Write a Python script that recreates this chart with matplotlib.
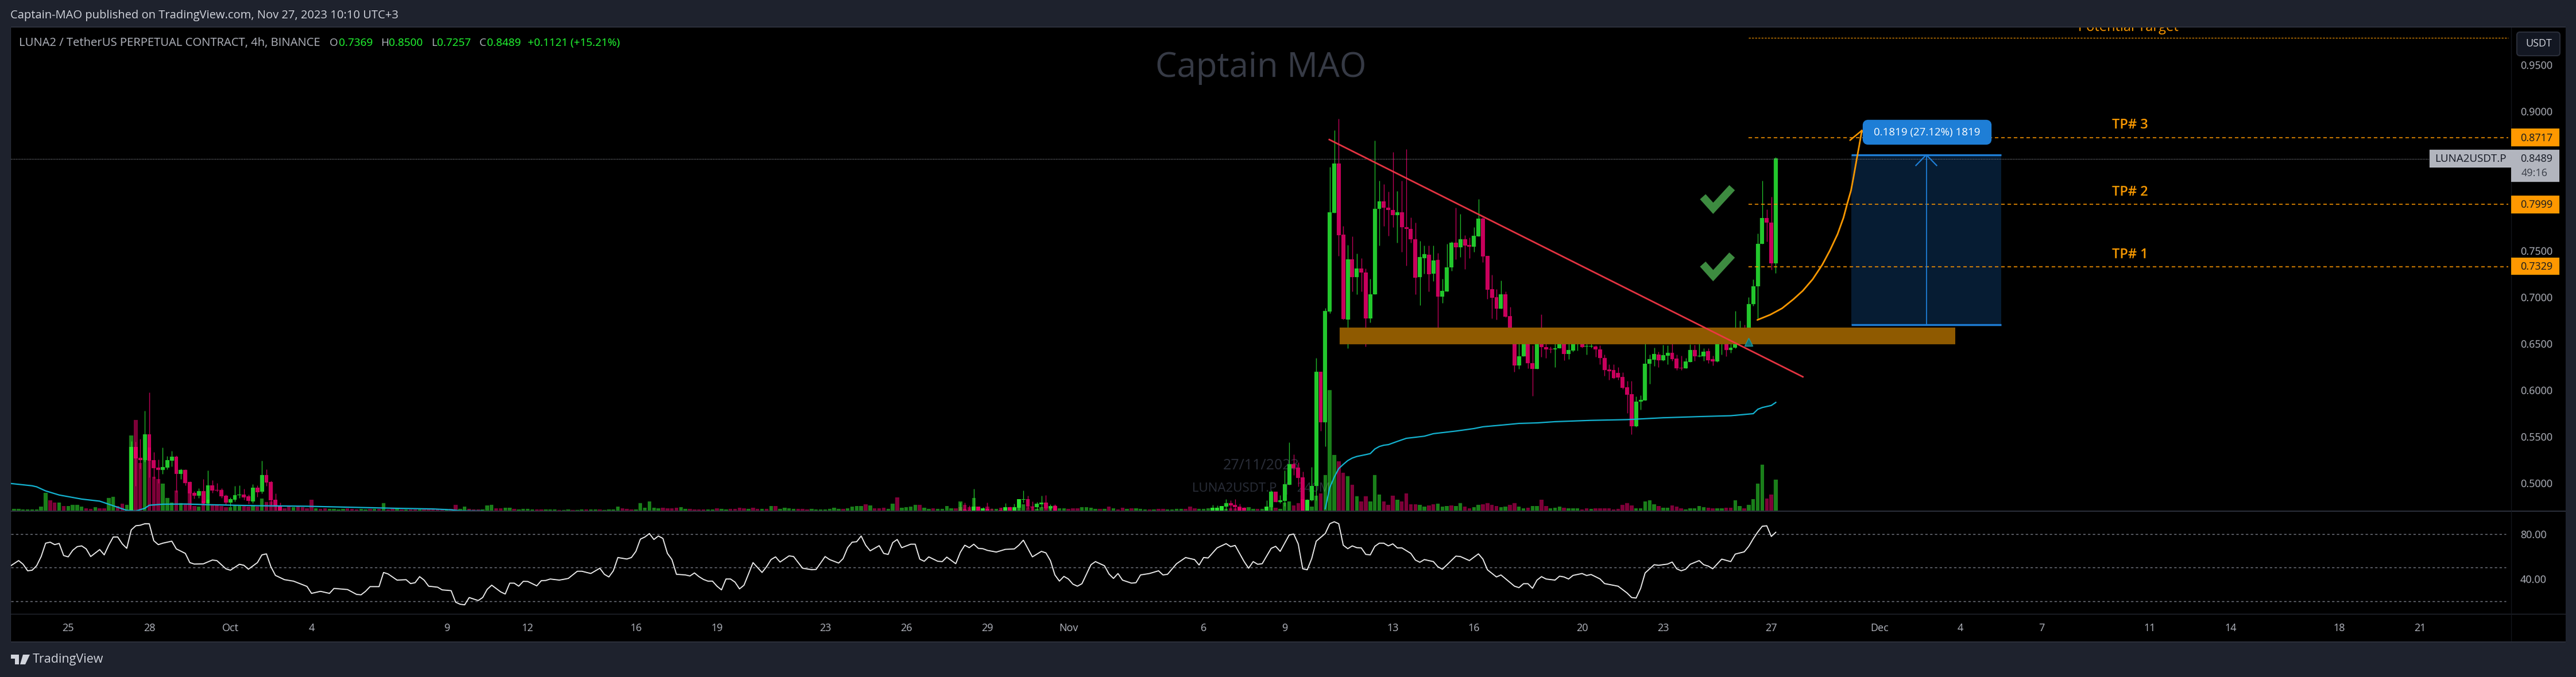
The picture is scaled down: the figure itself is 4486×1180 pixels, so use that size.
import numpy as np
import matplotlib
matplotlib.use("Agg")
import matplotlib.pyplot as plt
from matplotlib.patches import Rectangle, FancyBboxPatch, Polygon

# ---------- candles (bar index: 0 = 28 Sep, 6 bars a day) ----------
bars_a = list(range(-4, 30))
open_a = [.4703,.5391,.5274,.5250,.5527,.5250,.5169,.5145,.5169,.5243,.5286,.5102,.5145,.5015,.4898,.4867,.4917,.4789,.4978,.4929,.4929,.4867,.4793,.4824,.4873,.4880,.4861,.4806,.4954,.4910,.5089,.5015,.4824,.4756]
close_a = [.5391,.5268,.5250,.5527,.5241,.5163,.5145,.5176,.5250,.5286,.5102,.5145,.5003,.4892,.4867,.4917,.4789,.4978,.4923,.4923,.4861,.4793,.4830,.4873,.4880,.4849,.4812,.4954,.4904,.5089,.5009,.4818,.4748,.4701]
high_a = [.5451,.5447,.5478,.5780,.5977,.5336,.5256,.5385,.5293,.5348,.5299,.5157,.5151,.5021,.4917,.4947,.5046,.5139,.5034,.5003,.4947,.4880,.4849,.4972,.4978,.4941,.4880,.4990,.4978,.5243,.5151,.5028,.4892,.4793]
low_a = [.4703,.4974,.5159,.5231,.5067,.5052,.5005,.5102,.5151,.5182,.4904,.5046,.4978,.4728,.4836,.4843,.4769,.4779,.4898,.4910,.4843,.4775,.4750,.4806,.4843,.4824,.4781,.4787,.4855,.4892,.4972,.4769,.4699,.4701]

bars_b = list(range(180, 202))
open_b = [.4701,.4713,.4713,.4701,.4750,.4701,.4727,.4701,.4701,.4712,.4701,.4744,.4701,.4738,.4826,.4830,.4750,.4744,.4775,.4793,.4731,.4756]
close_b = [.4713,.4701,.4701,.4750,.4701,.4731,.4701,.4703,.4703,.4706,.4744,.4701,.4744,.4830,.4830,.4750,.4745,.4781,.4793,.4731,.4756,.4701]
high_b = [.4793,.4793,.4762,.4941,.4750,.4744,.4793,.4731,.4712,.4735,.4787,.4750,.4781,.4830,.4923,.4867,.4805,.4799,.4867,.4873,.4775,.4775]
low_b = [.4701,.4701,.4701,.4701,.4701,.4701,.4701,.4701,.4701,.4701,.4701,.4701,.4701,.4701,.4793,.4731,.4701,.4713,.4738,.4719,.4701,.4701]

bars_c = list(range(236, 244)) + list(range(248, 362))
open_c = [.4701,.4701,.4701,.4753,.4785,.4769,.4748,.4738,
 .4701,.4744,.4911,.4800,.4810,.4984,.5206,.5169,.5065,.4701,.4820,.4974,.6201,.5658,.6847,.7907,.8438,.7673,.6759,.7406,.7219,.7309,.7268,.6773,.7034,.7951,.8031,.7965,.7937,.7882,.7915,.7755,.7736,.7626,.7219,.7420,.7455,.7254,.7400,.7007,.7062,.7323,.7585,.7538,.7626,.7563,.7543,.7653,.7846,.7444,.7084,.7001,.6877,.7029,.6797,.6544,.6264,.6365,.6530,.6291,.6230,.6555,.6467,.6442,.6437,.6451,.6539,.6393,.6429,.6525,.6530,.6470,.6470,.6470,.6442,.6346,.6225,
 .6217,.6189,.6145,.6035,.5958,.5616,.5878,.5891,.6285,.6326,.6387,.6324,.6373,.6401,.6340,.6241,.6235,.6304,.6436,.6368,.6368,.6420,.6332,.6310,.6492,.6497,.6434,.6461,.6544,.6670,.6621,.6924,.7117,.7571,.7849,.7805,.7364]
close_c = [.4738,.4738,.4756,.4785,.4765,.4744,.4701,.4707,
 .4748,.4911,.4800,.4818,.4991,.5206,.5163,.5061,.4701,.4826,.4974,.6201,.5658,.6853,.7912,.8438,.7667,.6764,.7406,.7219,.7309,.7268,.6773,.7034,.7951,.8031,.7965,.7937,.7882,.7915,.7750,.7736,.7623,.7210,.7431,.7461,.7249,.7392,.7007,.7067,.7323,.7585,.7538,.7626,.7557,.7543,.7659,.7846,.7439,.7081,.6996,.6877,.7034,.6792,.6539,.6264,.6365,.6530,.6291,.6230,.6555,.6467,.6437,.6437,.6451,.6544,.6393,.6434,.6525,.6530,.6464,.6475,.6478,.6442,.6346,.6217,.6208,
 .6134,.6139,.6029,.5955,.5616,.5878,.5897,.6285,.6332,.6393,.6324,.6379,.6401,.6337,.6235,.6235,.6310,.6436,.6368,.6373,.6414,.6324,.6313,.6492,.6497,.6434,.6461,.6547,.6670,.6626,.6924,.7117,.7571,.7849,.7805,.7364,.8493]
high_c = [.4769,.4765,.4759,.4830,.4820,.4830,.4779,.4745,
 .4816,.4923,.4911,.4871,.5139,.5441,.5313,.5225,.5128,.4830,.5176,.6347,.6201,.6883,.8397,.8796,.8920,.7764,.7563,.7654,.7466,.7420,.7309,.7199,.8686,.8251,.8218,.8135,.8559,.8141,.8251,.8589,.7860,.7805,.7604,.7557,.7557,.7557,.7474,.7199,.7571,.7599,.7965,.7893,.7667,.7640,.7750,.8053,.7860,.7444,.7241,.7089,.7177,.7062,.6897,.6544,.6539,.6539,.6539,.6484,.6663,.6814,.6594,.6470,.6539,.6621,.6544,.6525,.6539,.6594,.6654,.6539,.6580,.6484,.6484,.6387,.6277,
 .6277,.6250,.6194,.6098,.6098,.5933,.5947,.6588,.6387,.6461,.6414,.6489,.6483,.6670,.6387,.6373,.6346,.6497,.6491,.6662,.6450,.6450,.6373,.6525,.6525,.6566,.6539,.6855,.6745,.6703,.7001,.7194,.7687,.8252,.7942,.8080,.8507]
low_c = [.4701,.4701,.4701,.4707,.4707,.4707,.4701,.4701,
 .4701,.4707,.4800,.4789,.4759,.4984,.5091,.4964,.4701,.4701,.4810,.4818,.5566,.5399,.6828,.7907,.7442,.6759,.6451,.7062,.7034,.7062,.6470,.6731,.7034,.7557,.7764,.7659,.7750,.7585,.7488,.7337,.7585,.7034,.6916,.7254,.7062,.7172,.6676,.6938,.7062,.7282,.7406,.7433,.7304,.7420,.7488,.7653,.7378,.6979,.6773,.6759,.6877,.6787,.6525,.6200,.6230,.6365,.6236,.5939,.6230,.6360,.6346,.6401,.6250,.6451,.6324,.6332,.6415,.6429,.6456,.6387,.6456,.6360,.6277,.6153,.6112,
 .6125,.6112,.6015,.5754,.5525,.5608,.5795,.5891,.6070,.6263,.6250,.6318,.6277,.6318,.6216,.6216,.6235,.6304,.6318,.6360,.6318,.6290,.6269,.6304,.6387,.6368,.6401,.6450,.6539,.6539,.6580,.6910,.6772,.7571,.7599,.7296,.7260]

# ---------- volume, signed: + up bar, - down bar ----------
vol_start_1 = -30
vol_1 = [3,3,2,2,2,2,7,31,-18,-14,14,-8,8,10,10,7,-4,-3,6,-4,-4,22,24,-8,-12,10]
vol_start_2 = -4
vol_2 = [131,-158,-83,88,-110,-59,-55,47,22,14,-35,13,-12,-30,-8,7,-17,19,-10,-9,-8,-6,6,9,8,-8,-7,9,-7,21,-15,-16,-10,-7,-4,-7,6,-8,-6,-4]
vol_start_3 = 36
vol_3 = [-19,4,-3,-4,3,3,2,3,-4,-3,-2,3,2,-3,3,-3,13,-2,-3,3,-2,2,-2,-2,2,-2,-2,-2,-3,-2,2,-3,-10,3,7,-3,-2,-2,2,9,10,-4,-4,5,5,-3,2,3,3,2,-2,-2,2,2,2,-1,1,2,-1,1,2,-2,2,2,-2,1,2,2,7,-4,-3,-2,2,13,5,16,5,4,-5,-4,-4,-5,6,3,-3,-2,-2,-2,2,2,-4,3,2,-3,-3,-5,-4,3,-5,-3,3,-3]
vol_start_4 = 138
vol_4 = [8,-8,3,5,4,3,-3,-3,-2,3,2,2,2,3,5,3,-3,4,7,8,8,-11,9,-4,-4,-5,3,12,-23,5,6,7,10,-10,5,3,-4,3,3,8,4,-4,-6,-3]
vol_start_5 = 180
vol_5 = [16,-10,-6,22,-7,4,-7,-3,3,-5,6,-6,6,20,11,-6,-7,3,6,-4,5,-9,4,4,-3,-4,-4,6,6,5,3,-3,3,-7,4,-2,-5,3,-4,4,3,2,-2,2,-3,-3,2,2,3,3,-3,-7,-4,3,3,4]
vol_start_6 = 236
vol_6 = [5,5,8,3,-4,-4,-5,-5,6,3,-3,3,7,6,-5,3,14,16,-9,-13,-20,18,7,26,-30,62,210,97]
vol_start_7 = 264
vol_7 = [-86,-66,60,-45,25,-16,-25,16,62,28,-16,-10,-26,19,-16,-30,-11,-11,10,7,-9,-11,12,7,8,-9,8,13,-7,-4,6,10,-11,-13,-10,-8,6,7,-10,-13,7,4,-5,8,8,-19,-8,4,5,7,-5,4,4,4,-2,-4,3,-4,-4,-4,-4,-2,-3,-10,-13,-9,4,4,16,18,11,-8,5,5,-9,-7,-4,2,4,4,8,6,-5,-4,4,4,-5,-5,18,8,-4,10,20,47,80,-21,-28,54]

# ---------- RSI ----------
rsi_bars = [-31,-29,-28,-27,-26,-25,-24,-23,-22,-21,-20,-19,-18,-17,-16,-15,-14,-13,-11,-10,-9,-8,-7,-6,-5,-4,-3,-2,-1,0,1,2,3,5,6,8,9,10,12,14,15,17,18,20,21,22,24,25,26,27,28,30,32,35,36,38,40,41,44,46,47,48,49,51,52,53,55,57,58,59,60,61,62,64,65,67,68,69,70,71,73,74,75,76,78,79,80,81,82,83,84,86,87,88,89,91,93,95,96,98,100,101,102,103,104,106,107,108,109,110,111,112,113,114,115,116,117,119,120,121,122,123,124,125,126,127,128,129,130,131,132,134,136,137,138,139,140,142,143,145,147,148,150,151,153,154,155,156,157,158,
 159,160,162,163,164,165,166,167,169,170,171,172,173,175,176,177,179,180,181,182,183,184,185,186,188,190,192,193,194,196,198,199,200,201,202,203,204,205,206,207,209,210,212,213,214,215,216,218,219,220,222,224,225,226,228,230,232,233,234,235,237,239,240,241,243,244,245,246,247,249,250,251,253,254,255,256,257,258,259,261,262,263,264,265,266,267,268,269,270,271,272,273,274,275,276,277,278,280,281,282,283,285,286,287,290,291,293,295,296,297,299,300,303,304,305,306,307,308,309,310,312,313,314,315,316,318,319,320,322,323,326,328,329,330,331,332,334,335,337,338,339,340,341,342,344,345,346,347,349,351,352,354,355,356,357,358,359,360,361]
rsi_vals = [51,56.3,53,47.2,47.7,51.7,59.9,71.8,72.7,70.5,71.6,60.8,59.6,65.4,68.7,69.4,66.7,59.9,66.1,61.4,70,77.3,77.3,71.2,67.2,83.6,87.3,87.8,89.1,89.1,74,70.5,71.8,73.6,66.7,62.7,54.5,53.2,53.4,56.8,56.3,49,47.7,53,52.1,48.6,54.5,61.4,62.3,50.8,43.1,39.3,38,33.3,27.1,28.9,27.1,31.5,30.5,26.2,25.8,28.9,33.1,33.1,45.7,44.4,38.9,39.3,35.8,36.6,42,38.9,33.5,32.6,30.2,29.5,19.2,17.4,16.9,23.4,20.7,23.4,30.7,34.4,28.4,26.5,36.2,36.2,33.5,37.8,37.7,33.8,38.4,38.6,39.9,38.9,40.4,46.8,46.8,44.8,49.5,44.1,41.7,47.2,59,57.7,59,64.5,75.4,77.3,80.4,75.1,78.2,76,62.7,57.2,44.1,43.5,42.6,45.3,42,39.5,38,38,33.5,30.2,39.9,39.9,37.1,31.1,34.4,54.5,45.7,50.8,57.2,59.6,55,60.5,59.9,49.5,48.2,48.4,59.9,57.2,54.1,58.1,67.8,72.7,73.1,78.2,
 70,65,69.6,62.7,61.8,72.3,75.1,67.8,70.9,70.9,57.6,55.7,59.6,55.7,55.4,59.4,53.5,63.6,70,67.8,70.9,67.2,66.9,65.4,63.9,66.3,66.7,70,74.5,59.6,64.5,63.2,56.3,43.5,38,42.2,39.9,35.3,33.5,35.7,52.6,55.4,51.7,44.4,40.4,44.8,38.9,36.2,36.6,43.5,44.8,47.2,43.5,44.1,53.5,59,57.2,52.3,59,58.6,67.6,71.4,68.7,69.8,55.4,49.5,55.4,53,53.5,67.2,69,64.5,79.1,80,71.2,49,48.1,58.1,73.6,80.4,89.1,90.9,89.1,70,66.9,69.4,67.8,67.6,61.8,61.4,69,71.8,71.8,69.4,71.2,67.6,67.6,62.7,56.8,54.8,57.2,55.4,50.8,48.6,60.3,59.9,56.3,62.3,57.6,48.1,41.7,43.5,33.5,32.2,35.7,35.7,31.6,38.9,42,39.9,38.9,42.4,41.7,39.9,43.1,44.8,43,43.9,39.9,35.8,33.5,27.4,23.4,22.9,31.6,45.3,52.6,52.1,53.2,55,49,47.2,48.6,53,56.3,52.6,51.4,49,57.6,55.4,62.1,64.1,69,75.8,81.8,86.9,87.3,77.8,81.5]
rsi_levels = [80, 50, 20]

# ---------- moving line ----------
ma1_bars = [-31,-26,-25,-23,-20,-15,-11,-9,-5,-3,-1,0,3,8,13,24,35,45,55,63,67,69,74]
ma1_vals = [.5000,.4974,.4963,.4919,.4875,.4831,.4809,.4776,.4710,.4703,.4732,.4765,.4776,.4778,.4771,.4760,.4754,.4743,.4732,.4725,.4716,.4705,.4703]
ma2_bars = [261,262,263,264,265,266,267,268,269,270,271,272,273,274,275,277,279,283,285,290,294,296,301,304,308,312,320,328,336,345,351,356,357,358,360,361]
ma2_vals = [.4728,.4954,.5067,.5159,.5204,.5245,.5272,.5289,.5299,.5309,.5320,.5369,.5396,.5410,.5416,.5451,.5484,.5507,.5534,.5562,.5589,.5608,.5630,.5644,.5650,.5663,.5677,.5685,.5705,.5719,.5727,.5749,.5796,.5815,.5837,.5870]

# ---------- drawings ----------
trend_bars = [261.9, 367.0]
trend_vals = [.8694, .6145]
zone_bars = [264.2, 400.8]
zone_vals = [.6492, .6674]
tp_levels = [.8717, .7999, .7329]
tp_names = ["TP# 3", "TP# 2", "TP# 1"]
tp_labels = ["0.8717", "0.7999", "0.7329"]
top_level = .9785
curve_bars = [356.9,359.8,362.4,364.9,367.0,369.2,371.3,373.0,374.7,376.0,376.8,377.7,378.3,378.9,379.6,380.1]
curve_vals = [.6756,.6813,.6881,.6978,.7070,.7194,.7348,.7502,.7677,.7851,.7995,.8149,.8303,.8468,.8653,.8792]
box_bars = [377.8, 411.0]
box_vals = [.6705, .8530]
last_price = .8489

price_ticks = [.95,.90,.75,.70,.65,.60,.55,.50]
price_ticklabels = ["0.9500","0.9000","0.7500","0.7000","0.6500","0.6000","0.5500","0.5000"]
rsi_ticks = [80, 40]
rsi_ticklabels = ["80.00", "40.00"]
time_ticks = [-18,0,18,36,66,84,108,126,150,168,186,204,234,252,276,294,318,336,360,384,402,420,444,462,486,504]
time_labels = ["25","28","Oct","4","9","12","16","19","23","26","29","Nov","6","9","13","16","20","23","27","Dec","4","7","11","14","18","21"]

# ---------- style ----------
W, H = 4486, 1180
BG, BLACK = "#1e222d", "#000000"
UP, DOWN = "#22c72c", "#c8005c"
VUP, VDOWN = "#34fe34", "#fc0070"
ORANGE, BLUE, GREY = "#ff9800", "#1e7ed6", "#b2b5be"
FONT = "Open Sans"
plt.rcParams["font.family"] = [FONT, "DejaVu Sans"]

fig = plt.figure(figsize=(W/100, H/100), dpi=100, facecolor=BG)
def fx(x): return x / W
def fy(y): return 1 - y / H
def rect(x0, y0, x1, y1): return [fx(x0), fy(y1), fx(x1 - x0), (y1 - y0) / H]
def frect(x0, y0, x1, y1, z=1, **kw):
    p = Rectangle((fx(x0), fy(y1)), fx(x1 - x0), (y1 - y0) / H, transform=fig.transFigure, zorder=z, **kw)
    fig.add_artist(p); return p
def ftext(x, y, s, size, color, ha="left", z=20, **kw):
    return fig.text(fx(x), fy(y), s, fontsize=size, color=color, ha=ha, va="center", zorder=z, **kw)

L, R, TOP, SPLIT1, SPLIT2, BOT, EDGE = 19, 4373, 48, 891, 1071, 1118, 4468
frect(L, TOP, EDGE, BOT, z=-5, facecolor=BLACK, edgecolor="none")
XLIM = (-30.71, 524.2)
YLIM = (.4701, .9898)

ax = fig.add_axes(rect(L, TOP, R, SPLIT1), zorder=1, facecolor="none")
vax = fig.add_axes(rect(L, TOP, R, SPLIT1), zorder=2, facecolor="none", sharex=ax)
oax = fig.add_axes(rect(L, TOP, R, SPLIT1), zorder=3, facecolor="none", sharex=ax, sharey=ax)
rax = fig.add_axes(rect(L, SPLIT1, R, SPLIT2), zorder=1, facecolor="none", sharex=ax)

ax.set_xlim(*XLIM); ax.set_ylim(*YLIM)

# watermarks, behind the candles
wm = dict(transform=fig.transFigure, ha="center", va="center", zorder=0)
ax.text(fx(2196), fy(118), "Captain MAO", fontsize=43, color="#363a45", **wm)
ax.text(fx(2196), fy(811), "27/11/2023", fontsize=18, color="#2a2e39", **wm)
ax.text(fx(2196), fy(852), "LUNA2USDT.P  |  240M", fontsize=16, color="#2a2e39", **wm)

# candles
b = np.array(bars_a + bars_b + bars_c)
o = np.array(open_a + open_b + open_c)
c = np.array(close_a + close_b + close_c)
h = np.array(high_a + high_b + high_c)
l = np.array(low_a + low_b + low_c)
cols = [UP if cc >= oo else DOWN for oo, cc in zip(o, c)]
ax.vlines(b, l, h, colors=cols, linewidth=0.9, zorder=2)
ax.bar(b, np.maximum(np.abs(c - o), .0006), bottom=np.minimum(o, c), width=.88, color=cols, linewidth=0, zorder=3)

# volume
vx, vy = [], []
for st, vs in [(vol_start_1, vol_1), (vol_start_2, vol_2), (vol_start_3, vol_3), (vol_start_4, vol_4),
               (vol_start_5, vol_5), (vol_start_6, vol_6), (vol_start_7, vol_7)]:
    vx += list(range(st, st + len(vs))); vy += vs
vy = np.array(vy)
vax.bar(vx, np.abs(vy), width=.82, color=[VUP if v > 0 else VDOWN for v in vy], alpha=.5, linewidth=0)
vax.set_ylim(-1.5, 841.5)
vax.axis("off")

# moving line
for xs, ys in [(ma1_bars, ma1_vals), (ma2_bars, ma2_vals)]:
    oax.plot(xs, ys, color="#14b4d2", lw=1.6, zorder=4, solid_joinstyle="round")

# drawings
oax.add_patch(Rectangle((zone_bars[0], zone_vals[0]), zone_bars[1]-zone_bars[0], zone_vals[1]-zone_vals[0],
                        facecolor="#8f5a00", edgecolor="none", zorder=1))
oax.plot(trend_bars, trend_vals, color="#f23645", lw=2.0, zorder=5, alpha=.95)
dash = (0, (4, 3.2))
for lv in tp_levels:
    oax.plot([355, 523.6], [lv, lv], color=ORANGE, lw=1.1, ls=dash, zorder=3)
oax.plot([355, 523.6], [top_level, top_level], color=ORANGE, lw=.8, ls=(0, (3, 2)), zorder=3)
oax.plot([XLIM[0], XLIM[1]], [last_price, last_price], color="#9598a1", lw=.8, ls=(0, (1, 1.5)), zorder=2)
oax.add_patch(Rectangle((box_bars[0], box_vals[0]), box_bars[1]-box_bars[0], box_vals[1]-box_vals[0],
                        facecolor="#061c33", edgecolor="none", zorder=1.5))
for v in box_vals:
    oax.plot(box_bars, [v, v], color=BLUE, lw=2.4, zorder=4, solid_capstyle="butt")
bm = (box_bars[0] + box_bars[1]) / 2
oax.plot([bm, bm], box_vals, color=BLUE, lw=1.3, zorder=4)
oax.plot([bm - 2.3, bm, bm + 2.3], [.8416, box_vals[1], .8416], color=BLUE, lw=1.6, zorder=4)
oax.plot(curve_bars, curve_vals, color=ORANGE, lw=2.0, zorder=6, solid_capstyle="round")
oax.plot([377.5, 380.1, 382.1], [.8688, .8792, .8657], color=ORANGE, lw=1.8, zorder=6)
for dy in (0, -.0724):
    oax.plot([344.8, 347.1, 351.3], [.8080 + dy, .7956 + dy, .8177 + dy], color="#3d8b40", lw=9.5,
             solid_joinstyle="miter", solid_capstyle="butt", zorder=6)
oax.plot([355], [.6517], marker="^", ms=10, color="#0f6f73", mec="#1a9a9e", mew=1, zorder=6)

# RSI
rax.plot(rsi_bars, rsi_vals, color="#f5f5f5", lw=1.3, zorder=3)
for lv in rsi_levels:
    rax.plot([XLIM[0], 523.0], [lv, lv], color="#787b86", lw=1.0, ls=(0, (3, 3)), zorder=2)
rax.set_ylim(8.3, 100.3)

# axes furniture
for a in (ax, oax, rax):
    for s in a.spines.values():
        s.set_visible(False)
oax.axis("off")
ax.yaxis.tick_right()
ax.set_yticks(price_ticks); ax.set_yticklabels(price_ticklabels)
ax.tick_params(axis="y", length=0, pad=11.5, labelsize=13, labelcolor=GREY)
ax.tick_params(axis="x", bottom=False, labelbottom=False)
rax.yaxis.tick_right()
rax.set_yticks(rsi_ticks); rax.set_yticklabels(rsi_ticklabels)
rax.tick_params(axis="y", length=0, pad=11.5, labelsize=13, labelcolor=GREY)
rax.set_xticks(time_ticks); rax.set_xticklabels(time_labels)
rax.tick_params(axis="x", length=0, pad=11, labelsize=13, labelcolor=GREY, labelbottom=True)
ax.set_xlim(*XLIM)

# frame lines
line = "#2a2e39"
frect(L, SPLIT1 - 1, EDGE, SPLIT1 + 1, z=8, facecolor=line)
frect(L, SPLIT2 - 1, EDGE, SPLIT2, z=8, facecolor=line)
frect(L, TOP - 2, EDGE, TOP, z=8, facecolor=line)
frect(L - 1, TOP, L, BOT, z=8, facecolor=line)
frect(L, BOT, EDGE, BOT + 2, z=8, facecolor=line)
frect(R, TOP, R + 1, BOT, z=8, facecolor="#15181f")

# header and legend
ftext(18, 27, "Captain-MAO published on TradingView.com, Nov 27, 2023 10:10 UTC+3", 14.5, "#d1d4dc")
ftext(33, 75, "LUNA2 / TetherUS PERPETUAL CONTRACT, 4h, BINANCE", 14.6, GREY)
for x, s, col in [(574, "O", GREY), (590, "0.7369", "#22ff33"), (663, "H", GREY), (677, "0.8500", "#22ff33"),
                  (751, "L", GREY), (761, "0.7257", "#22ff33"), (835, "C", GREY), (848, "0.8489", "#22ff33"),
                  (919, "+0.1121 (+15.21%)", "#22ff33")]:
    ftext(x, 75, s, 13.6, col)

# drawing labels
oax.text(fx(3706), fy(48), "Potential Target", fontsize=17, color=ORANGE, ha="center", va="center",
         transform=fig.transFigure, clip_on=True, clip_box=oax.bbox, zorder=7)
for name, y in zip(tp_names, (218, 335, 444)):
    ftext(3709, y, name, 17, ORANGE, ha="center", fontweight="semibold")
lab = FancyBboxPatch((fx(3248), fy(248)), fx(216), 35 / H, boxstyle="round,pad=0,rounding_size=0.0012",
                     transform=fig.transFigure, facecolor=BLUE, edgecolor=BLUE, linewidth=6, zorder=15,
                     mutation_aspect=3.8)
fig.add_artist(lab)
ftext(3356, 231, "0.1819 (27.12%) 1819", 13.5, "white", ha="center")

# price tags
for txt, y0, y1 in zip(tp_labels, (224, 341, 449), (255, 372, 479)):
    frect(R, y0, 4457, y1, z=15, facecolor=ORANGE)
    ftext(4417, (y0 + y1) / 2 + 1, txt, 13, "#131722", ha="center")
frect(R, 261, 4457, 317, z=15, facecolor=GREY)
frect(4231, 261, R, 292, z=15, facecolor=GREY)
ftext(4302, 277, "LUNA2USDT.P", 13.5, "#131722", ha="center")
ftext(4417, 277, "0.8489", 13, "#131722", ha="center")
ftext(4414, 302, "49:16", 13, "#3a3e48", ha="center")
usd = FancyBboxPatch((fx(4383), fy(97)), fx(75), 41 / H, boxstyle="round,pad=0,rounding_size=0.0012",
                     transform=fig.transFigure, facecolor="#131722", edgecolor="#2a2e39", linewidth=1.5, zorder=15,
                     mutation_aspect=3.8)
fig.add_artist(usd)
ftext(4421, 76, "USDT", 13, "#d1d4dc", ha="center")

# brand mark
logo = "#d1d4dc"
fig.add_artist(Polygon([(fx(19), fy(1141)), (fx(33), fy(1141)), (fx(33), fy(1158)), (fx(26), fy(1158)),
                        (fx(26), fy(1148)), (fx(19), fy(1148))], closed=True, transform=fig.transFigure, facecolor=logo))
fig.add_artist(Polygon([(fx(40), fy(1141)), (fx(52), fy(1141)), (fx(44), fy(1158)), (fx(35), fy(1158))],
                       closed=True, transform=fig.transFigure, facecolor=logo))
ftext(57, 1150, "TradingView", 15.5, logo)

fig.savefig("out.png", dpi=100, facecolor=BG)
